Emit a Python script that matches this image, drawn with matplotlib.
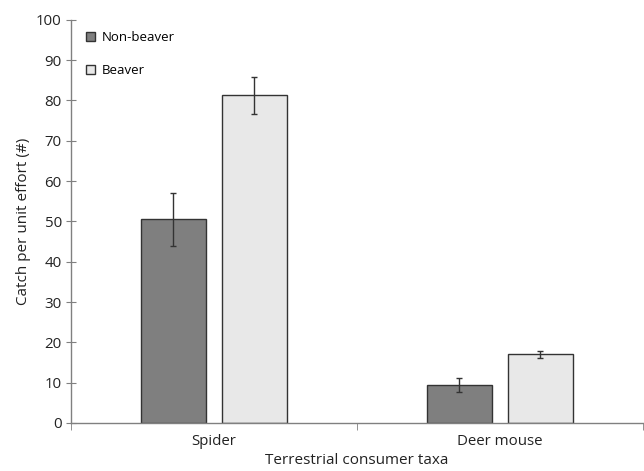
import matplotlib
matplotlib.use("Agg")
import matplotlib.pyplot as plt
import numpy as np

categories = ["Spider", "Deer mouse"]
series_names = ["Non-beaver", "Beaver"]
non_beaver = [50.5, 9.5]
non_beaver_err = [6.5, 1.7]
beaver = [81.3, 17.0]
beaver_err = [4.6, 0.8]
yticks = [0, 10, 20, 30, 40, 50, 60, 70, 80, 90, 100]

plt.rcParams['font.family'] = ['Open Sans', 'DejaVu Sans']

fig = plt.figure(figsize=(6.44, 4.71), dpi=100)
ax = fig.add_axes([0.110, 0.102, 0.888, 0.856])

x = np.arange(len(categories))
w = 0.227
off = 0.141
ekw = dict(ecolor="#333333", elinewidth=1.0, capsize=2.5, capthick=1.0)
ax.bar(x - off, non_beaver, w, yerr=non_beaver_err, color="#7f7f7f",
       edgecolor="#333333", linewidth=1.0, label=series_names[0], error_kw=ekw)
ax.bar(x + off, beaver, w, yerr=beaver_err, color="#e8e8e8",
       edgecolor="#333333", linewidth=1.0, label=series_names[1], error_kw=ekw)

ax.set_xlim(-0.5, 1.5)
ax.set_ylim(0, 100)
ax.set_yticks(yticks)
ax.set_xticks(x)
ax.set_xticklabels(categories, fontsize=10.8, color="#222222")
ax.tick_params(axis='x', length=0, pad=8)
ax.set_xticks([-0.5, 0.5, 1.5], minor=True)
ax.tick_params(axis='x', which='minor', length=5, direction='out', color="#808080")
ax.tick_params(axis='y', direction='inout', length=7, color="#808080", labelsize=10.8,
               labelcolor="#222222", pad=3)

for s in ["top", "right"]:
    ax.spines[s].set_visible(False)
for s in ["left", "bottom"]:
    ax.spines[s].set_color("#808080")
    ax.spines[s].set_linewidth(1.0)

ax.set_ylabel("Catch per unit effort (#)", fontsize=11, color="#222222", labelpad=4)
ax.set_xlabel("Terrestrial consumer taxa", fontsize=11, color="#222222", labelpad=3)

leg = ax.legend(loc="upper left", bbox_to_anchor=(0.01, 0.995), frameon=False,
                fontsize=9.5, handlelength=0.7, handleheight=0.7, handletextpad=0.5,
                labelspacing=1.55, borderaxespad=0.3)

fig.savefig("out.png", dpi=100)
